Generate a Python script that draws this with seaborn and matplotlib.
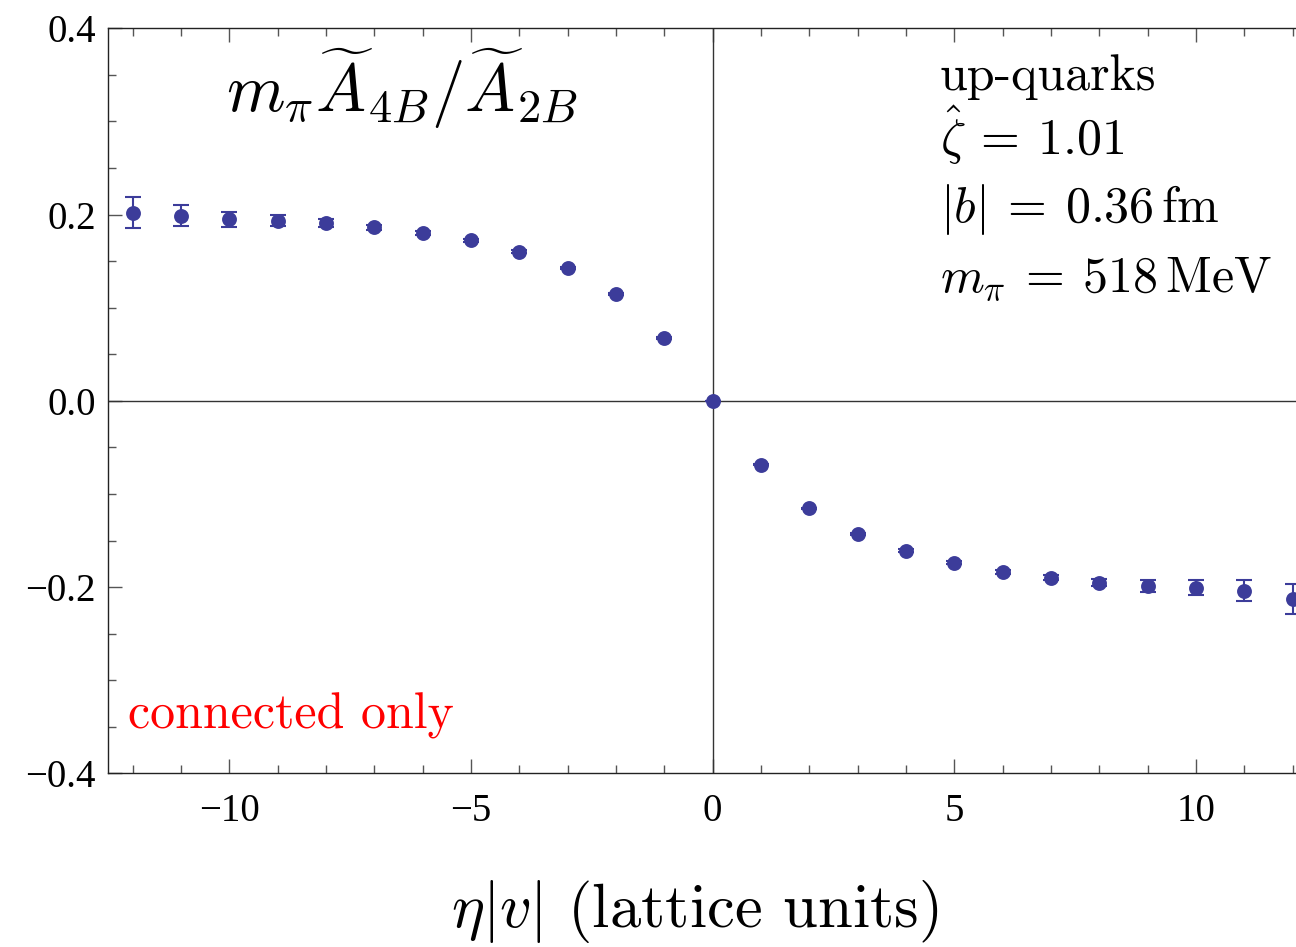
import matplotlib
matplotlib.use("Agg")
import matplotlib.pyplot as plt
from matplotlib.ticker import MultipleLocator
import numpy as np
import pandas as pd
import seaborn as sns

# data
eta_v = [-12, -11, -10, -9, -8, -7, -6, -5, -4, -3, -2, -1, 0,
         1, 2, 3, 4, 5, 6, 7, 8, 9, 10, 11, 12]
ratio = [0.2018, 0.1989, 0.1950, 0.1935, 0.1910, 0.1863, 0.1806, 0.1723,
         0.1600, 0.1426, 0.1146, 0.0675, 0.0,
         -0.0685, -0.1156, -0.1432, -0.1611, -0.1737, -0.1834, -0.1899,
         -0.1953, -0.1988, -0.2006, -0.2039, -0.2128]
ratio_err = [0.0167, 0.0113, 0.0080, 0.0060, 0.0040, 0.0030, 0.0022, 0.0018,
             0.0015, 0.0012, 0.0010, 0.0008, 0.0,
             0.0008, 0.0010, 0.0012, 0.0015, 0.0018, 0.0022, 0.0030,
             0.0040, 0.0067, 0.0084, 0.0113, 0.0165]

y_ticks = [-0.4, -0.2, 0.0, 0.2, 0.4]
y_ticklabels = ["\u22120.4", "\u22120.2", "0.0", "0.2", "0.4"]
x_ticks = [-10, -5, 0, 5, 10]
x_ticklabels = ["\u221210", "\u22125", "0", "5", "10"]

df = pd.DataFrame({"eta_v": eta_v, "ratio": ratio, "err": ratio_err})

sns.set_style("ticks")
plt.rcParams["mathtext.fontset"] = "cm"
plt.rcParams["font.family"] = ["Liberation Serif", "DejaVu Serif"]
plt.rcParams["text.color"] = "black"

col = "#3c3c9a"

fig = plt.figure(figsize=(12.96, 9.47), dpi=100)
ax = fig.add_axes([0.0836, 0.1834, 0.9164, 0.7867])

ax.axhline(0, color="#333333", lw=1.0, zorder=1)
ax.axvline(0, color="#333333", lw=1.0, zorder=1)

ax.errorbar(df["eta_v"], df["ratio"], yerr=df["err"], fmt="none",
            ecolor=col, elinewidth=1.5, capsize=5.5, capthick=1.5, zorder=2)
sns.scatterplot(data=df, x="eta_v", y="ratio", color=col, s=115,
                edgecolor=col, linewidth=0, ax=ax, zorder=3)

ax.set_xlim(-12.5, 12.07)
ax.set_ylim(-0.4, 0.4)
ax.set_xlabel("")
ax.set_ylabel("")

ax.set_xticks(x_ticks)
ax.set_xticklabels(x_ticklabels)
ax.set_yticks(y_ticks)
ax.set_yticklabels(y_ticklabels)
ax.xaxis.set_minor_locator(MultipleLocator(1))
ax.yaxis.set_minor_locator(MultipleLocator(0.05))

ax.tick_params(which="both", direction="in", top=True, right=False,
               color="#555555", width=1.0, labelsize=28, labelcolor="black")
ax.tick_params(which="major", length=10, pad=9)
ax.tick_params(which="minor", length=6)
ax.tick_params(axis="x", which="major", pad=14)

for s in ["left", "bottom", "top"]:
    ax.spines[s].set_color("#222222")
    ax.spines[s].set_linewidth(1.0)
ax.spines["right"].set_visible(False)

ax.text(0.247, 0.888, r"$m_\pi \widetilde{A}_{4B}/\widetilde{A}_{2B}$",
        transform=ax.transAxes, ha="center", va="baseline", fontsize=48)

info_lines = [r"up-quarks", r"$\hat{\zeta}\:=\:1.01$",
              r"$|b|\:=\:0.36\,\mathrm{fm}$",
              r"$m_\pi\:=\:518\,\mathrm{MeV}$"]
info_y = [0.917, 0.830, 0.740, 0.646]
for txt, yy in zip(info_lines, info_y):
    ax.text(0.700, yy, txt, transform=ax.transAxes, ha="left",
            va="baseline", fontsize=36, family="cmr10")

ax.text(0.0166, 0.0595, "connected only", transform=ax.transAxes,
        ha="left", va="baseline", fontsize=36, color="red", family="cmr10")

fig.text(0.536, 0.021, r"$\eta|v|$ (lattice units)", ha="center",
         va="baseline", fontsize=45, family="cmr10")

fig.savefig("out.png", dpi=100)
